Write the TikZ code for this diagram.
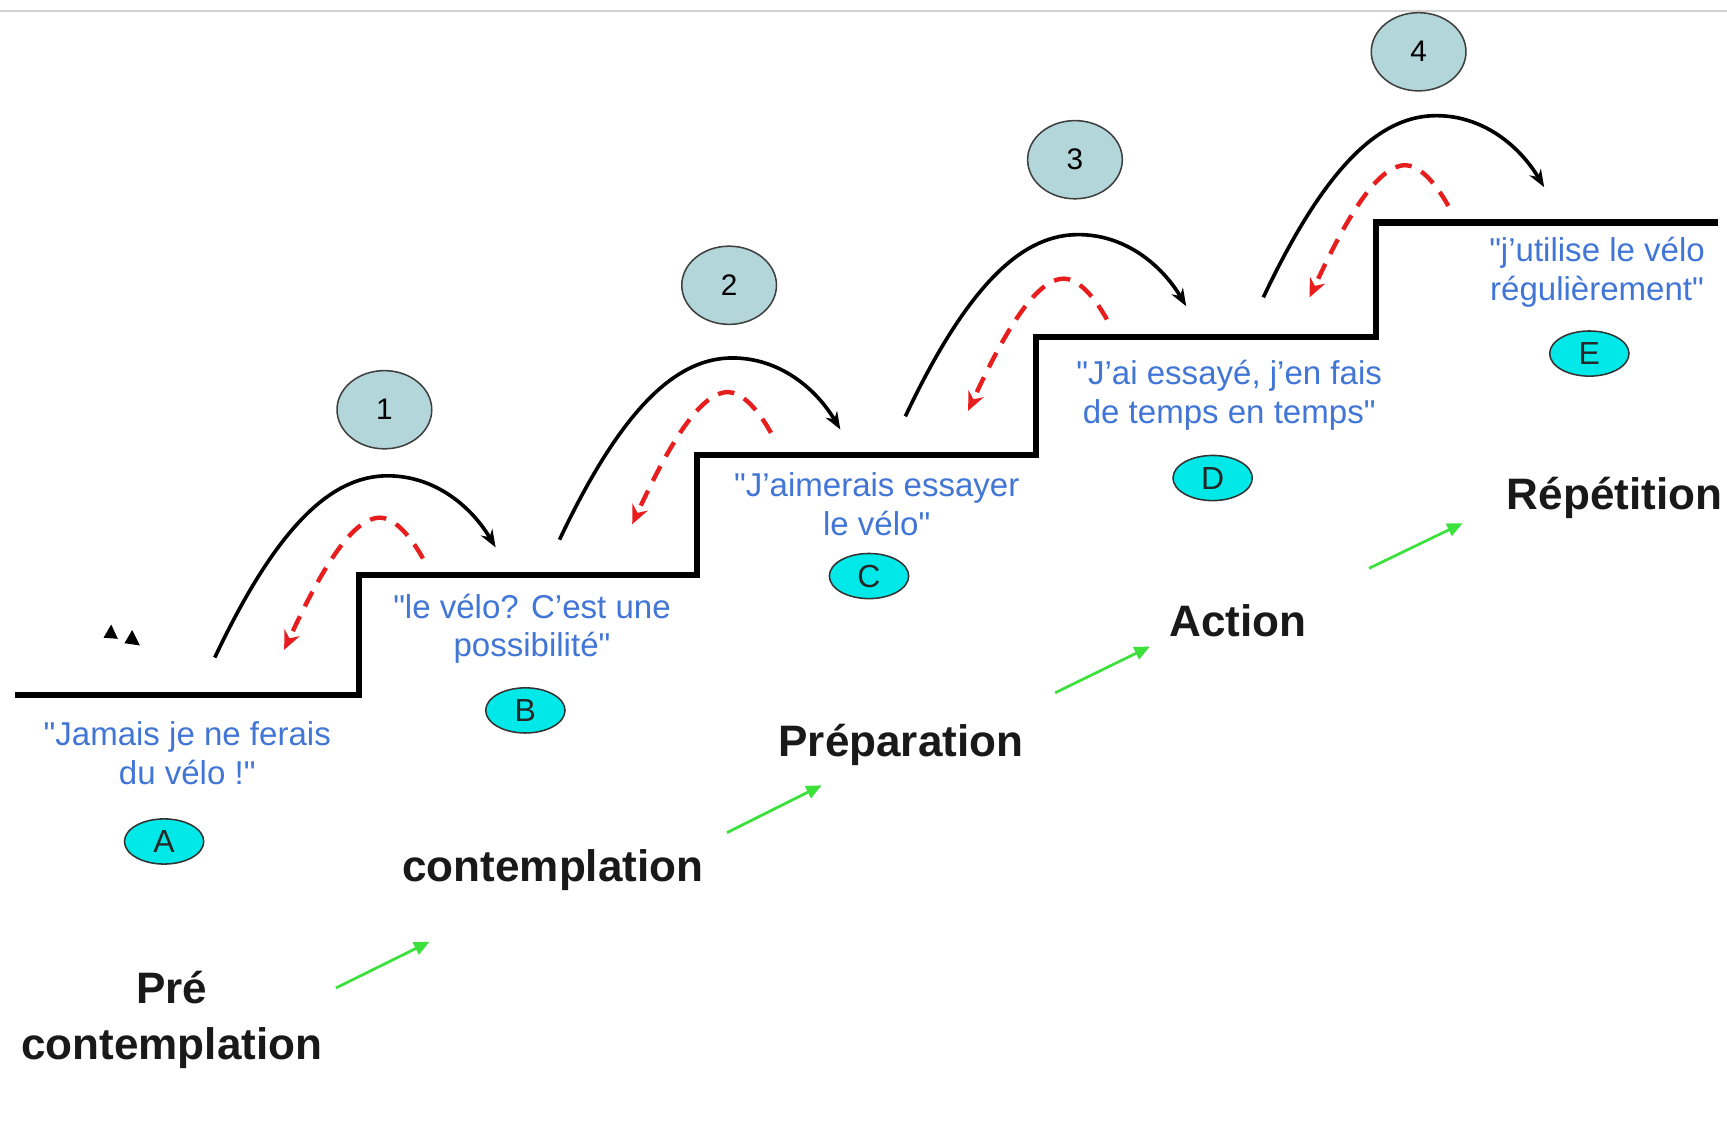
\documentclass[tikz,border=0pt]{standalone}
\usepackage{fontspec}
\setmainfont{Liberation Sans}
\usetikzlibrary{arrows.meta,shapes.geometric}
\definecolor{quoteblue}{RGB}{66,118,214}
\definecolor{numfill}{RGB}{178,214,218}
\definecolor{letfill}{RGB}{0,232,232}
\definecolor{arrowgreen}{RGB}{60,225,60}
\definecolor{falred}{RGB}{232,30,30}
\newcommand{\dq}{\XeTeXglyph\XeTeXcharglyph"22\relax}
\tikzset{
  stairline/.style={line width=5.5pt,black},
  jumparc/.style={line width=3.3pt,black,-{Stealth[length=16pt,width=12pt]}},
  fallarc/.style={line width=4pt,falred,dash pattern=on 15pt off 10pt,-{Stealth[length=17pt,width=15pt]}},
  numcirc/.style={ellipse,draw=black!75,line width=1.4pt,fill=numfill,minimum width=86pt,minimum height=71pt,inner sep=0pt,font=\fontsize{27}{30}\selectfont},
  letoval/.style={ellipse,draw=black!80,line width=1.4pt,fill=letfill,minimum width=72pt,minimum height=41pt,inner sep=0pt,font=\fontsize{29}{32}\selectfont,text=black!85},
  quote/.style={align=center,text=quoteblue,inner sep=0pt,font=\fontsize{30}{35}\selectfont},
  stage/.style={align=center,text=black!90,inner sep=0pt,font=\bfseries\fontsize{40}{50}\selectfont},
  greenarrow/.style={line width=2.5pt,arrowgreen,-{Triangle[length=14pt,width=12pt]}}
}
\begin{document}
\begin{tikzpicture}[x=1pt,y=-1pt]
\useasboundingbox (0,0) rectangle (1568,1039);
\fill[white] (0,0) rectangle (1568,1039);
% top gray line
\draw[gray!35,line width=1.5pt] (0,10) -- (1568,10);
% stairs
\draw[stairline] (14,631) -- (326,631) -- (326,522) -- (633,522) -- (633,413) -- (941,413) -- (941,306) -- (1249,306) -- (1249,202) -- (1560,202);
% number circles
\node[numcirc] (n1) at (349,372) {1};
\node[numcirc] (n2) at (662,259) {2};
\node[numcirc] (n3) at (976,145) {3};
\node[numcirc] (n4) at (1288,47) {4};
% jumps (black) and falls (red dashed)
\foreach \dx/\dy in {0/0, 313/-107, 627/-219, 952/-327}{
  \draw[jumparc,shift={(\dx,\dy)}] (195,597) .. controls (255,470) and (305,432) .. (352,432) .. controls (395,432) and (428,460) .. (450,497);
}
\foreach \dx/\dy in {0/0, 316/-114, 621/-217, 931/-320}{
  \draw[fallarc,shift={(\dx,\dy)}] (384,507) .. controls (370,482) and (356,470) .. (345,470) .. controls (318,470) and (288,525) .. (258,590);
}
% small triangles
\fill[black] (94,579) -- (101,567) -- (107,580) -- cycle;
\fill[black] (113,584) -- (120,572) -- (127,586) -- cycle;
% quotes
\node[quote] (qa) at (170,684) {\dq Jamais je ne ferais\\du vélo !\dq};
\node[quote] (qb) at (483,571) {\dq le vélo? C’est une\\possibilité\dq};
\node[quote] (qc) at (796,458) {\dq J’aimerais essayer\\le vélo\dq};
\node[quote] (qd) at (1116,359) {\dq J’ai essayé, j’en fais\\de temps en temps\dq};
\node[quote] (qe) at (1450,247) {\dq j’utilise le vélo\\régulièrement\dq};
% letter ovals
\node[letoval] (la) at (149,764) {A};
\node[letoval] (lb) at (477,645) {B};
\node[letoval] (lc) at (789,523) {C};
\node[letoval] (ld) at (1101,434) {D};
\node[letoval] (le) at (1443,321) {E};
% stages
\node[stage] (s1) at (156,926) {Pré\\contemplation};
\node[stage] (s2) at (502,790) {contemplation};
\node[stage] (s3) at (818,676) {Préparation};
\node[stage] (s4) at (1124,564) {Action};
\node[stage] (s5) at (1466,452) {Répétition};
% green arrows
\coordinate (g1a) at (305,897); \coordinate (g1b) at (390,855);
\coordinate (g2a) at (660,756); \coordinate (g2b) at (746,713);
\coordinate (g3a) at (958,629); \coordinate (g3b) at (1044,587);
\coordinate (g4a) at (1243,516); \coordinate (g4b) at (1328,475);
\draw[greenarrow] (g1a) -- (g1b);
\draw[greenarrow] (g2a) -- (g2b);
\draw[greenarrow] (g3a) -- (g3b);
\draw[greenarrow] (g4a) -- (g4b);
\end{tikzpicture}
\end{document}
